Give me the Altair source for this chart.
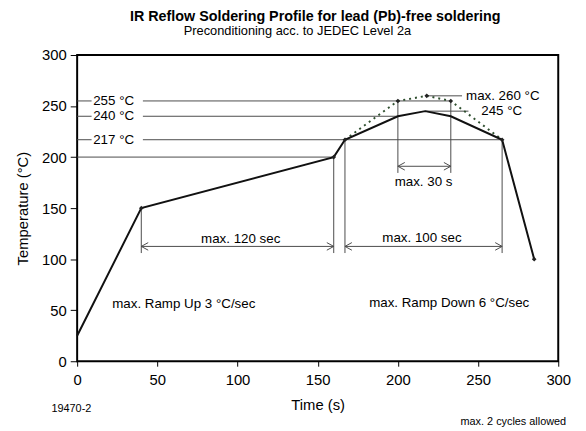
import altair as alt
import pandas as pd

FONT = "Liberation Sans"

# Solid reflow profile
profile_time = [0, 40, 160, 167, 200, 217, 233, 265, 285]
profile_temp = [25, 150, 200, 217, 240, 245, 240, 217, 100]
# Dotted maximum profile
max_time = [167, 200, 218, 233, 265]
max_temp = [217, 255, 260, 255, 217]
# Markers on vertices
marker_time = [40, 160, 167, 200, 218, 233, 265, 285]
marker_temp = [150, 200, 217, 255, 260, 255, 217, 100]

# Labelled temperature levels from the y axis
level_temp = [255, 240, 217]
level_label = ["255 °C", "240 °C", "217 °C"]
level_end = [233, 200, 265]
# Unlabelled level
plain_temp = [200]
plain_end = [160]

# Peak levels with labels to the right
peak_temp = [260, 245]
peak_start = [218, 217]
peak_end = [240, 244]
peak_label = ["max. 260 °C", "245 °C"]
peak_label_time = [242.5, 252]

# Vertical guide lines
vline_time = [40, 160, 167, 265, 200, 233]
vline_top = [150, 200, 217, 217, 255, 255]
vline_bottom = [106, 106, 106, 106, 184.5, 184.5]

# Dimension arrows
arrow_start = [40, 167, 200]
arrow_end = [160, 265, 233]
arrow_temp = [112.5, 112.5, 191]
arrow_label = ["max. 120 sec", "max. 100 sec", "max. 30 s"]
arrow_label_time = [102, 215, 216]
arrow_label_temp = [120, 121, 175.5]

# Notes
note_text = ["max. Ramp Up 3 °C/sec", "max. Ramp Down 6 °C/sec"]
note_time = [66.5, 232]
note_temp = [56, 57.5]

x_ticks = [0, 50, 100, 150, 200, 250, 300]
y_ticks = [0, 50, 100, 150, 200, 250, 300]

GAP_L, GAP_R = 9, 41

xs = alt.Scale(domain=[0, 300], nice=False, zero=False)
ys = alt.Scale(domain=[0, 300], nice=False, zero=False)

GREY = "#4a4a4a"

# ---- frames
profile_df = pd.DataFrame({"t": profile_time, "T": profile_temp})
max_df = pd.DataFrame({"t": max_time, "T": max_temp})
marker_df = pd.DataFrame({"t": marker_time, "T": marker_temp})

hx, hx2, hy = [], [], []
for T, e in zip(level_temp, level_end):
    hx += [0, GAP_R]; hx2 += [GAP_L, e]; hy += [T, T]
for T, e in zip(plain_temp, plain_end):
    hx.append(0); hx2.append(e); hy.append(T)
for T, s, e in zip(peak_temp, peak_start, peak_end):
    hx.append(s); hx2.append(e); hy.append(T)
hseg_df = pd.DataFrame({"x": hx, "x2": hx2, "y": hy})

vseg_df = pd.DataFrame({"x": vline_time, "y": vline_top, "y2": vline_bottom})
arrow_df = pd.DataFrame({"x": arrow_start, "x2": arrow_end, "y": arrow_temp})
level_lab_df = pd.DataFrame({"x": [GAP_L + 1] * 3, "y": level_temp, "label": level_label})
peak_lab_df = pd.DataFrame({"x": peak_label_time, "y": peak_temp, "label": peak_label})
arrow_lab_df = pd.DataFrame({"x": arrow_label_time, "y": arrow_label_temp, "label": arrow_label})
note_df = pd.DataFrame({"x": note_time, "y": note_temp, "label": note_text})
left_head_df = pd.DataFrame({"x": arrow_start, "y": arrow_temp})
right_head_df = pd.DataFrame({"x": arrow_end, "y": arrow_temp})

X = lambda f="x": alt.X(f"{f}:Q", scale=xs,
                        axis=alt.Axis(values=x_ticks, title="Time (s)", grid=False, domain=False,
                                      tickColor="black", tickSize=5, labelPadding=7,
                                      labelFontSize=15, titleFontSize=15, titleFontWeight="normal",
                                      labelFont=FONT, titleFont=FONT, labelColor="black",
                                      titleColor="black", titlePadding=10, labelFlush=False))
Y = lambda f="y": alt.Y(f"{f}:Q", scale=ys,
                        axis=alt.Axis(values=y_ticks, title="Temperature (°C)", grid=False, domain=False,
                                      tickColor="black", tickSize=7, labelPadding=4,
                                      labelFontSize=15, titleFontSize=15, titleFontWeight="normal",
                                      labelFont=FONT, titleFont=FONT, labelColor="black",
                                      titleColor="black", titlePadding=11))

hseg = alt.Chart(hseg_df).mark_rule(color=GREY, strokeWidth=1).encode(
    x=X("x"), x2="x2:Q", y=Y("y"))
vseg = alt.Chart(vseg_df).mark_rule(color=GREY, strokeWidth=1).encode(
    x=X("x"), y=Y("y"), y2="y2:Q")
arrows = alt.Chart(arrow_df).mark_rule(color=GREY, strokeWidth=1).encode(
    x=X("x"), x2="x2:Q", y=Y("y"))
lhead = alt.Chart(left_head_df).mark_point(
    shape="M 1 -0.55 L 0 0 L 1 0.55", size=196, filled=False, color=GREY, strokeWidth=1, opacity=1
).encode(x=X("x"), y=Y("y"))
rhead = alt.Chart(right_head_df).mark_point(
    shape="M -1 -0.55 L 0 0 L -1 0.55", size=196, filled=False, color=GREY, strokeWidth=1, opacity=1
).encode(x=X("x"), y=Y("y"))

max_line = alt.Chart(max_df).mark_line(
    color="#2f4f2f", strokeWidth=2, strokeDash=[2, 4]).encode(x=X("t"), y=Y("T"))
profile = alt.Chart(profile_df).mark_line(color="#111", strokeWidth=2).encode(
    x=X("t"), y=Y("T"))
markers = alt.Chart(marker_df).mark_point(
    shape="diamond", filled=True, size=22, color="#222", opacity=1).encode(x=X("t"), y=Y("T"))

txt = dict(font=FONT, fontSize=13.5, color="black")
level_labels = alt.Chart(level_lab_df).mark_text(align="left", baseline="middle", **txt).encode(
    x=X("x"), y=Y("y"), text="label:N")
peak_labels = alt.Chart(peak_lab_df).mark_text(align="left", baseline="middle", **txt).encode(
    x=X("x"), y=Y("y"), text="label:N")
arrow_labels = alt.Chart(arrow_lab_df).mark_text(align="center", baseline="middle", **txt).encode(
    x=X("x"), y=Y("y"), text="label:N")
notes = alt.Chart(note_df).mark_text(align="center", baseline="middle", **txt).encode(
    x=X("x"), y=Y("y"), text="label:N")

title_df = pd.DataFrame({"label": ["IR Reflow Soldering Profile for lead (Pb)-free soldering"]})
sub_df = pd.DataFrame({"label": ["Preconditioning acc. to JEDEC Level 2a"]})
code_df = pd.DataFrame({"label": ["19470-2"]})
cyc_df = pd.DataFrame({"label": ["max. 2 cycles allowed"]})

title = alt.Chart(title_df).mark_text(font=FONT, fontSize=14.5, fontWeight="bold", color="black",
                                      align="center", baseline="middle").encode(
    x=alt.value(241), y=alt.value(-38), text="label:N")
sub = alt.Chart(sub_df).mark_text(font=FONT, fontSize=13, color="black",
                                  align="center", baseline="middle").encode(
    x=alt.value(223), y=alt.value(-24), text="label:N")
code = alt.Chart(code_df).mark_text(font=FONT, fontSize=11, color="black",
                                    align="left", baseline="middle").encode(
    x=alt.value(-26), y=alt.value(358), text="label:N")
cyc = alt.Chart(cyc_df).mark_text(font=FONT, fontSize=11, color="black",
                                  align="right", baseline="middle").encode(
    x=alt.value(495), y=alt.value(372), text="label:N")

chart = alt.layer(
    hseg, vseg, arrows, lhead, rhead, max_line, profile, markers,
    level_labels, peak_labels, arrow_labels, notes, title, sub, code, cyc
).properties(
    width=487, height=310, autosize="none",
    padding={"left": 70, "top": 45, "right": 20, "bottom": 66},
    background="white",
).configure_view(stroke="black", strokeWidth=2)

chart.save("out.html", embed_options={"renderer": "svg", "actions": False})
